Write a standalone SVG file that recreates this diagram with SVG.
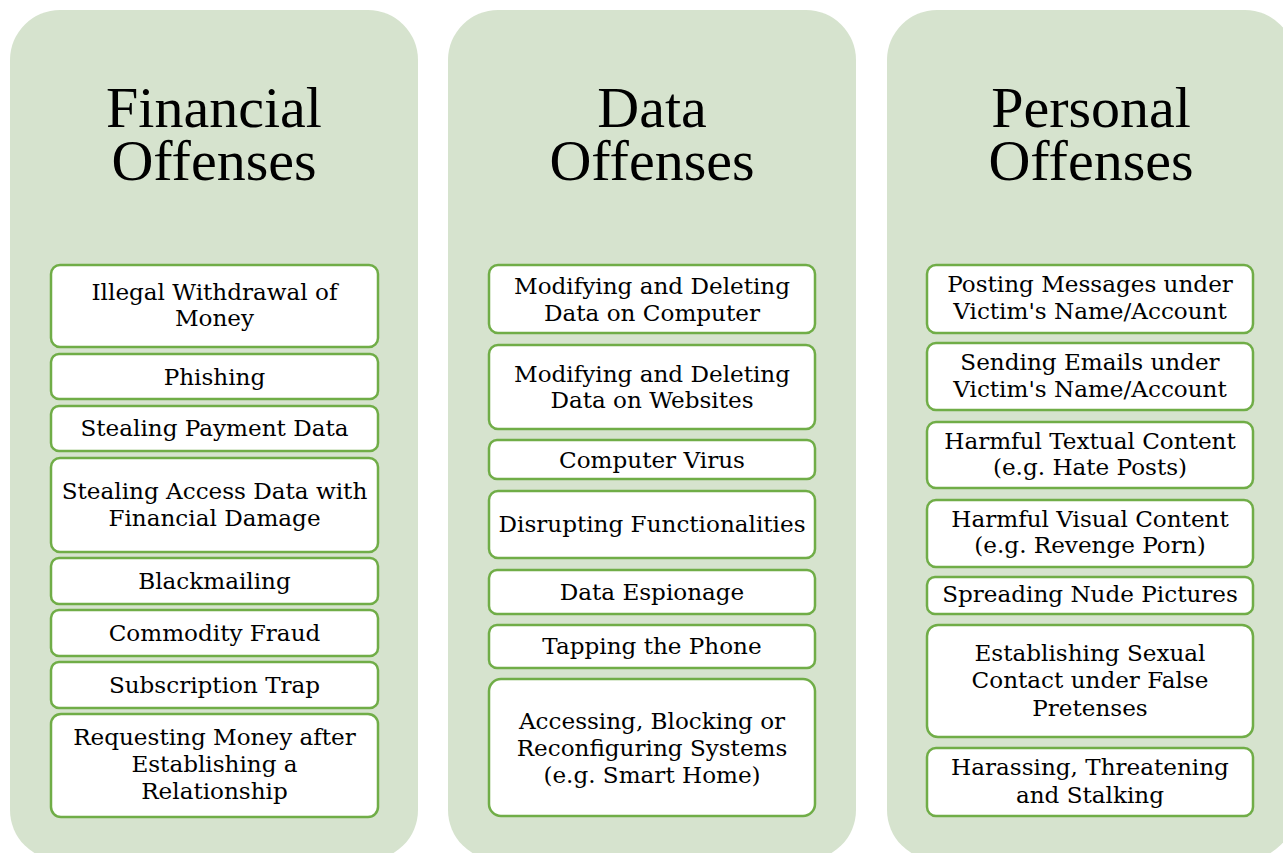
<svg xmlns="http://www.w3.org/2000/svg" width="1283" height="853" viewBox="0 0 1283 853">
  <style>
    .panel { fill: #d6e3ce; }
    .title { font-family: "Liberation Serif", "Times New Roman", serif; font-size: 58px; fill: #000; text-anchor: middle; }
    .box { fill: #ffffff; stroke: #70ad47; stroke-width: 2.5; }
    .item { font-family: "DejaVu Serif", Georgia, serif; font-size: 23.1px; fill: #000; text-anchor: middle; }
  </style>
  <rect width="1283" height="853" fill="#ffffff"/>

  <!-- Financial offenses column -->
  <g id="financial">
    <rect class="panel" x="10" y="10" width="408" height="850" rx="50"/>
    <text class="title" x="214" y="127">Financial</text>
    <text class="title" x="214" y="180">Offenses</text>
  </g>
  <g id="fin-withdrawal">
    <rect class="box" x="51" y="265" width="327" height="82" rx="9"/>
    <text class="item" x="214.5" y="300">Illegal Withdrawal of</text>
    <text class="item" x="214.5" y="326">Money</text>
  </g>
  <g id="fin-phishing">
    <rect class="box" x="51" y="354" width="327" height="45" rx="8"/>
    <text class="item" x="214.5" y="385">Phishing</text>
  </g>
  <g id="fin-payment">
    <rect class="box" x="51" y="406" width="327" height="45" rx="8"/>
    <text class="item" x="214.5" y="436">Stealing Payment Data</text>
  </g>
  <g id="fin-access">
    <rect class="box" x="51" y="458" width="327" height="94" rx="9"/>
    <text class="item" x="214.5" y="499">Stealing Access Data with</text>
    <text class="item" x="214.5" y="526">Financial Damage</text>
  </g>
  <g id="fin-blackmail">
    <rect class="box" x="51" y="558" width="327" height="46" rx="8"/>
    <text class="item" x="214.5" y="589">Blackmailing</text>
  </g>
  <g id="fin-commodity">
    <rect class="box" x="51" y="610" width="327" height="46" rx="8"/>
    <text class="item" x="214.5" y="641">Commodity Fraud</text>
  </g>
  <g id="fin-subscription">
    <rect class="box" x="51" y="662" width="327" height="46" rx="8"/>
    <text class="item" x="214.5" y="693">Subscription Trap</text>
  </g>
  <g id="fin-relationship">
    <rect class="box" x="51" y="714" width="327" height="103" rx="10"/>
    <text class="item" x="214.5" y="745">Requesting Money after</text>
    <text class="item" x="214.5" y="772">Establishing a</text>
    <text class="item" x="214.5" y="799">Relationship</text>
  </g>

  <!-- Data offenses column -->
  <g id="data">
    <rect class="panel" x="448" y="10" width="408" height="850" rx="50"/>
    <text class="title" x="652" y="127">Data</text>
    <text class="title" x="652" y="180">Offenses</text>
  </g>
  <g id="data-computer">
    <rect class="box" x="489" y="265" width="326" height="68" rx="9"/>
    <text class="item" x="652" y="294">Modifying and Deleting</text>
    <text class="item" x="652" y="321">Data on Computer</text>
  </g>
  <g id="data-websites">
    <rect class="box" x="489" y="345" width="326" height="84" rx="9"/>
    <text class="item" x="652" y="382">Modifying and Deleting</text>
    <text class="item" x="652" y="408">Data on Websites</text>
  </g>
  <g id="data-virus">
    <rect class="box" x="489" y="440" width="326" height="39" rx="8"/>
    <text class="item" x="652" y="468">Computer Virus</text>
  </g>
  <g id="data-disrupt">
    <rect class="box" x="489" y="491" width="326" height="67" rx="9"/>
    <text class="item" x="652" y="532">Disrupting Functionalities</text>
  </g>
  <g id="data-espionage">
    <rect class="box" x="489" y="570" width="326" height="44" rx="8"/>
    <text class="item" x="652" y="600">Data Espionage</text>
  </g>
  <g id="data-phone">
    <rect class="box" x="489" y="625" width="326" height="43" rx="8"/>
    <text class="item" x="652" y="654">Tapping the Phone</text>
  </g>
  <g id="data-systems">
    <rect class="box" x="489" y="679" width="326" height="137" rx="12"/>
    <text class="item" x="652" y="729">Accessing, Blocking or</text>
    <text class="item" x="652" y="756">Reconfiguring Systems</text>
    <text class="item" x="652" y="783">(e.g. Smart Home)</text>
  </g>

  <!-- Personal offenses column -->
  <g id="personal">
    <rect class="panel" x="887" y="10" width="408" height="850" rx="50"/>
    <text class="title" x="1091" y="127">Personal</text>
    <text class="title" x="1091" y="180">Offenses</text>
  </g>
  <g id="pers-posting">
    <rect class="box" x="927" y="265" width="326" height="68" rx="9"/>
    <text class="item" x="1090" y="292">Posting Messages under</text>
    <text class="item" x="1090" y="319">Victim's Name/Account</text>
  </g>
  <g id="pers-emails">
    <rect class="box" x="927" y="343" width="326" height="67" rx="9"/>
    <text class="item" x="1090" y="370">Sending Emails under</text>
    <text class="item" x="1090" y="397">Victim's Name/Account</text>
  </g>
  <g id="pers-textual">
    <rect class="box" x="927" y="422" width="326" height="66" rx="9"/>
    <text class="item" x="1090" y="449">Harmful Textual Content</text>
    <text class="item" x="1090" y="475">(e.g. Hate Posts)</text>
  </g>
  <g id="pers-visual">
    <rect class="box" x="927" y="500" width="326" height="67" rx="9"/>
    <text class="item" x="1090" y="527">Harmful Visual Content</text>
    <text class="item" x="1090" y="553">(e.g. Revenge Porn)</text>
  </g>
  <g id="pers-nude">
    <rect class="box" x="927" y="577" width="326" height="37" rx="8"/>
    <text class="item" x="1090" y="602">Spreading Nude Pictures</text>
  </g>
  <g id="pers-pretenses">
    <rect class="box" x="927" y="625" width="326" height="112" rx="11"/>
    <text class="item" x="1090" y="661">Establishing Sexual</text>
    <text class="item" x="1090" y="688">Contact under False</text>
    <text class="item" x="1090" y="716">Pretenses</text>
  </g>
  <g id="pers-stalking">
    <rect class="box" x="927" y="748" width="326" height="68" rx="9"/>
    <text class="item" x="1090" y="775">Harassing, Threatening</text>
    <text class="item" x="1090" y="803">and Stalking</text>
  </g>
</svg>
